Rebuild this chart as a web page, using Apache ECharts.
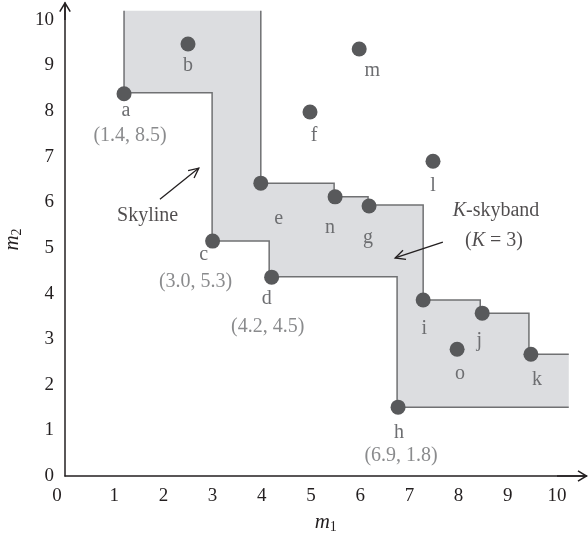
<!DOCTYPE html>
<html>
<head>
<meta charset="utf-8">
<script src="https://cdn.jsdelivr.net/npm/echarts@6/dist/echarts.min.js"></script>
<style>html,body{margin:0;padding:0;background:#fff}#c{width:588px;height:537px}</style>
</head>
<body>
<div id="c"></div>
<script>
// ---- data ----
const pointNames = ['a','b','c','d','e','f','m','n','g','l','i','j','o','k','h'];
const m1Values  = [1.2, 2.5, 3.0, 4.2, 3.98, 4.98, 5.98, 5.49, 6.18, 7.48, 7.28, 8.48, 7.97, 9.47, 6.77];
const m2Values  = [8.38, 9.47, 5.15, 4.36, 6.42, 7.98, 9.36, 6.12, 5.92, 6.9, 3.86, 3.57, 2.78, 2.67, 1.51];
const coordNames = ['a','c','d','h'];
const coordTexts = ['(1.4, 8.5)','(3.0, 5.3)','(4.2, 4.5)','(6.9, 1.8)'];
const xTicks = [0,1,2,3,4,5,6,7,8,9,10];
const yTicks = [0,1,2,3,4,5,6,7,8,9,10];
// skyband boundaries (data units)
const bandOuter = [[1.2,10.2],[3.98,10.2],[3.98,6.42],[5.47,6.42],[5.47,6.12],[6.16,6.12],[6.16,5.94],[7.28,5.94],[7.28,3.86],[8.44,3.86],[8.44,3.57],[9.43,3.57],[9.43,2.67],[10.24,2.67]];
const bandInner = [[1.2,8.4],[2.99,8.4],[2.99,5.15],[4.15,5.15],[4.15,4.37],[6.75,4.37],[6.75,1.51],[10.24,1.51]];
// annotations (data units)
const annotArrows = [[1.93,6.07,2.72,6.75],[7.68,5.13,6.71,4.78]];
const axisArrows = [[10.0,0,10.6,0],[0,10.0,0,10.37]];
const annotTexts = [[1.68,5.70,'Skyline'],[8.76,5.81,'{k|K}-skyband'],[8.72,5.15,'({k|K} = 3)']];

// ---- label placement (pixels) ----
const nameOffsets = {a:[2,17],b:[0,22],c:[-9,14],d:[-5,22],e:[18,36],f:[4,24],m:[13,22],n:[-5,31],g:[-1,32],l:[0,24],i:[1,29],j:[-3,28],o:[3,25],k:[6,26],h:[1,26]};
const coordOffsets = {a:[6,42],c:[-17,41],d:[-4,50],h:[3,49]};

const FONT = 'Liberation Serif';
const INK = '#231f20';
const GREY = '#6d6e71';

const chart = echarts.init(document.getElementById('c'));

function arrowGroup(p1, p2, L, ang, color, w) {
  const a = Math.atan2(p2[1]-p1[1], p2[0]-p1[0]);
  const h1 = [p2[0]-L*Math.cos(a-ang), p2[1]-L*Math.sin(a-ang)];
  const h2 = [p2[0]-L*Math.cos(a+ang), p2[1]-L*Math.sin(a+ang)];
  return [
    {type:'line', shape:{x1:p1[0],y1:p1[1],x2:p2[0],y2:p2[1]}, style:{stroke:color, lineWidth:w}},
    {type:'polyline', shape:{points:[h1,p2,h2]}, style:{stroke:color, lineWidth:w, fill:null}}
  ];
}

const pointData = pointNames.map((n,i)=>({value:[m1Values[i], m2Values[i]], name:n, label:{offset:nameOffsets[n]}}));
const coordData = coordNames.map((n,i)=>{const k=pointNames.indexOf(n);return {value:[m1Values[k], m2Values[k]], name:coordTexts[i], label:{offset:coordOffsets[n]}};});

chart.setOption({
  animation:false,
  grid:{left:65, top:3, width:521.5, height:473, containLabel:false, outerBoundsMode:'none'},
  xAxis:{
    type:'value', min:0, max:10.6, interval:1,
    axisLine:{show:true, onZero:false, lineStyle:{color:INK, width:1.5}},
    axisTick:{show:false}, splitLine:{show:false},
    axisLabel:{margin:11, fontFamily:FONT, fontSize:19, color:INK,
      formatter:v=> xTicks.indexOf(v)<0 ? '' : (v===0 ? '{z|0}' : String(v)),
      rich:{z:{padding:[0,16,0,0], fontFamily:FONT, fontSize:19, color:INK}}},
    name:'{i|m}{s|1}', nameLocation:'middle', nameGap:34,
    nameTextStyle:{rich:{i:{fontFamily:FONT, fontStyle:'italic', fontSize:21, color:INK}, s:{fontFamily:FONT, fontSize:14, color:INK, padding:[10,0,0,0]}}}
  },
  yAxis:{
    type:'value', min:0, max:10.37, interval:1,
    axisLine:{show:true, onZero:false, lineStyle:{color:INK, width:1.5}},
    axisTick:{show:false}, splitLine:{show:false},
    axisLabel:{margin:11, fontFamily:FONT, fontSize:19, color:INK,
      formatter:v=> yTicks.indexOf(v)<0 ? '' : String(v)},
    name:'{i|m}{s|2}', nameLocation:'middle', nameGap:37, nameRotate:90,
    nameTextStyle:{rich:{i:{fontFamily:FONT, fontStyle:'italic', fontSize:21, color:INK}, s:{fontFamily:FONT, fontSize:14, color:INK, padding:[10,0,0,0]}}}
  },
  series:[
    {
      type:'custom', z:1, clip:false, silent:true,
      data:[[0,0]],
      renderItem:(params, api)=>{
        const outer = bandOuter.map(p=>api.coord(p));
        const inner = bandInner.map(p=>api.coord(p));
        const poly = outer.concat(inner.slice().reverse());
        const ls = {stroke:'#707173', lineWidth:1.5, fill:null};
        return {type:'group', children:[
          {type:'polygon', shape:{points:poly}, style:{fill:'#dcdde0', stroke:null}},
          {type:'polyline', shape:{points:[inner[0], outer[0]]}, style:ls},
          {type:'polyline', shape:{points:outer.slice(1)}, style:ls},
          {type:'polyline', shape:{points:inner}, style:ls}
        ]};
      }
    },
    {
      type:'custom', z:2, clip:false, silent:true,
      data:annotArrows,
      renderItem:(params, api)=>{
        const p1 = api.coord([api.value(0), api.value(1)]);
        const p2 = api.coord([api.value(2), api.value(3)]);
        return {type:'group', children:arrowGroup(p1,p2,11,0.45,INK,1.3)};
      }
    },
    {
      type:'custom', z:2, clip:false, silent:true,
      data:axisArrows,
      renderItem:(params, api)=>{
        const p1 = api.coord([api.value(0), api.value(1)]);
        const p2 = api.coord([api.value(2), api.value(3)]);
        return {type:'group', children:arrowGroup(p1,p2,10,0.55,INK,1.5)};
      }
    },
    {
      type:'scatter', z:5, symbol:'circle', symbolSize:15, silent:true,
      itemStyle:{color:'#58595b', opacity:1},
      label:{show:true, position:'inside', formatter:p=>p.name, fontFamily:FONT, fontSize:20, color:GREY, verticalAlign:'middle', align:'center'},
      data:pointData
    },
    {
      type:'scatter', z:5, symbolSize:0, silent:true,
      label:{show:true, position:'inside', formatter:p=>p.name, fontFamily:FONT, fontSize:20, color:GREY, verticalAlign:'middle', align:'center'},
      data:coordData
    },
    {
      type:'scatter', z:5, symbolSize:0, silent:true,
      label:{show:true, position:'inside', formatter:p=>p.value[2], fontFamily:FONT, fontSize:20, color:INK, verticalAlign:'middle', align:'center',
        rich:{k:{fontFamily:FONT, fontStyle:'italic', fontSize:20, color:INK}}},
      data:annotTexts.map(t=>({value:t}))
    }
  ]
});
</script>
</body>
</html>
